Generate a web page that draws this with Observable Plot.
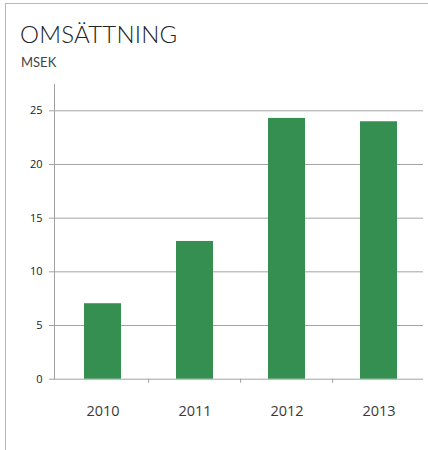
<!DOCTYPE html>
<html>
<head>
<meta charset="utf-8">
<script src="https://cdn.jsdelivr.net/npm/d3@7"></script>
<script src="https://cdn.jsdelivr.net/npm/@observablehq/plot@0.6"></script>
<style>
  html, body { margin: 0; padding: 0; background: #fff; }
  #wrap { position: relative; width: 428px; height: 450px; overflow: hidden; }
  #border { position: absolute; left: 5px; top: 3px; width: 430px; height: 460px;
            border-left: 1px solid #b8b8b8; border-top: 1px solid #b8b8b8; }
  #head { position: relative; height: 70px; }
  #title { position: absolute; left: 20px; top: 22px; font-family: Lato, sans-serif; font-weight: 300;
           font-size: 24px; line-height: 24px; color: #222; letter-spacing: 0.2px; }
  #sub { position: absolute; left: 21px; top: 55.5px; font-family: Lato, sans-serif; font-weight: 400;
         font-size: 13px; line-height: 13px; color: #444; }
  #chart svg { display: block; }
</style>
</head>
<body>
<div id="wrap">
  <div id="border"></div>
  <div id="head"><div id="title">OMSÄTTNING</div><div id="sub">MSEK</div></div>
  <div id="chart"></div>
</div>
<script>
const years = ["2010", "2011", "2012", "2013"];
const values = [7.03, 12.83, 24.29, 23.98];
const yTicks = [0, 5, 10, 15, 20, 25];

const data = years.map((year, i) => ({year, value: values[i]}));

const chart = Plot.plot({
  width: 428,
  height: 380,
  marginTop: 14,
  marginBottom: 71.3,
  marginLeft: 54,
  marginRight: 5,
  style: {fontFamily: "'Open Sans', sans-serif", background: "transparent", overflow: "visible"},
  x: {domain: years, range: [55, 426], paddingInner: 0.6, paddingOuter: 0.3, axis: null, label: null},
  y: {domain: [0, 27.45], axis: null, label: null},
  marks: [
    Plot.ruleY(yTicks, {stroke: "#a3a3a3", strokeWidth: 1}),
    Plot.frame({anchor: "left", stroke: "#a3a3a3"}),
    Plot.barY(data, {x: "year", y: "value", fill: "#358f51"}),
    Plot.axisY(yTicks, {tickSize: 5, tickPadding: 7, fontSize: 11, stroke: "#a3a3a3", fill: "#222", label: null}),
    Plot.axisX(years.slice(1), {tickSize: 4, tickFormat: () => "", dx: -46.4, stroke: "#a3a3a3", label: null}),
    Plot.axisX(years, {tickSize: 0, tickPadding: 27, fontSize: 14.5, fill: "#3a3a3a", label: null})
  ]
});
document.getElementById("chart").appendChild(chart);
</script>
</body>
</html>
